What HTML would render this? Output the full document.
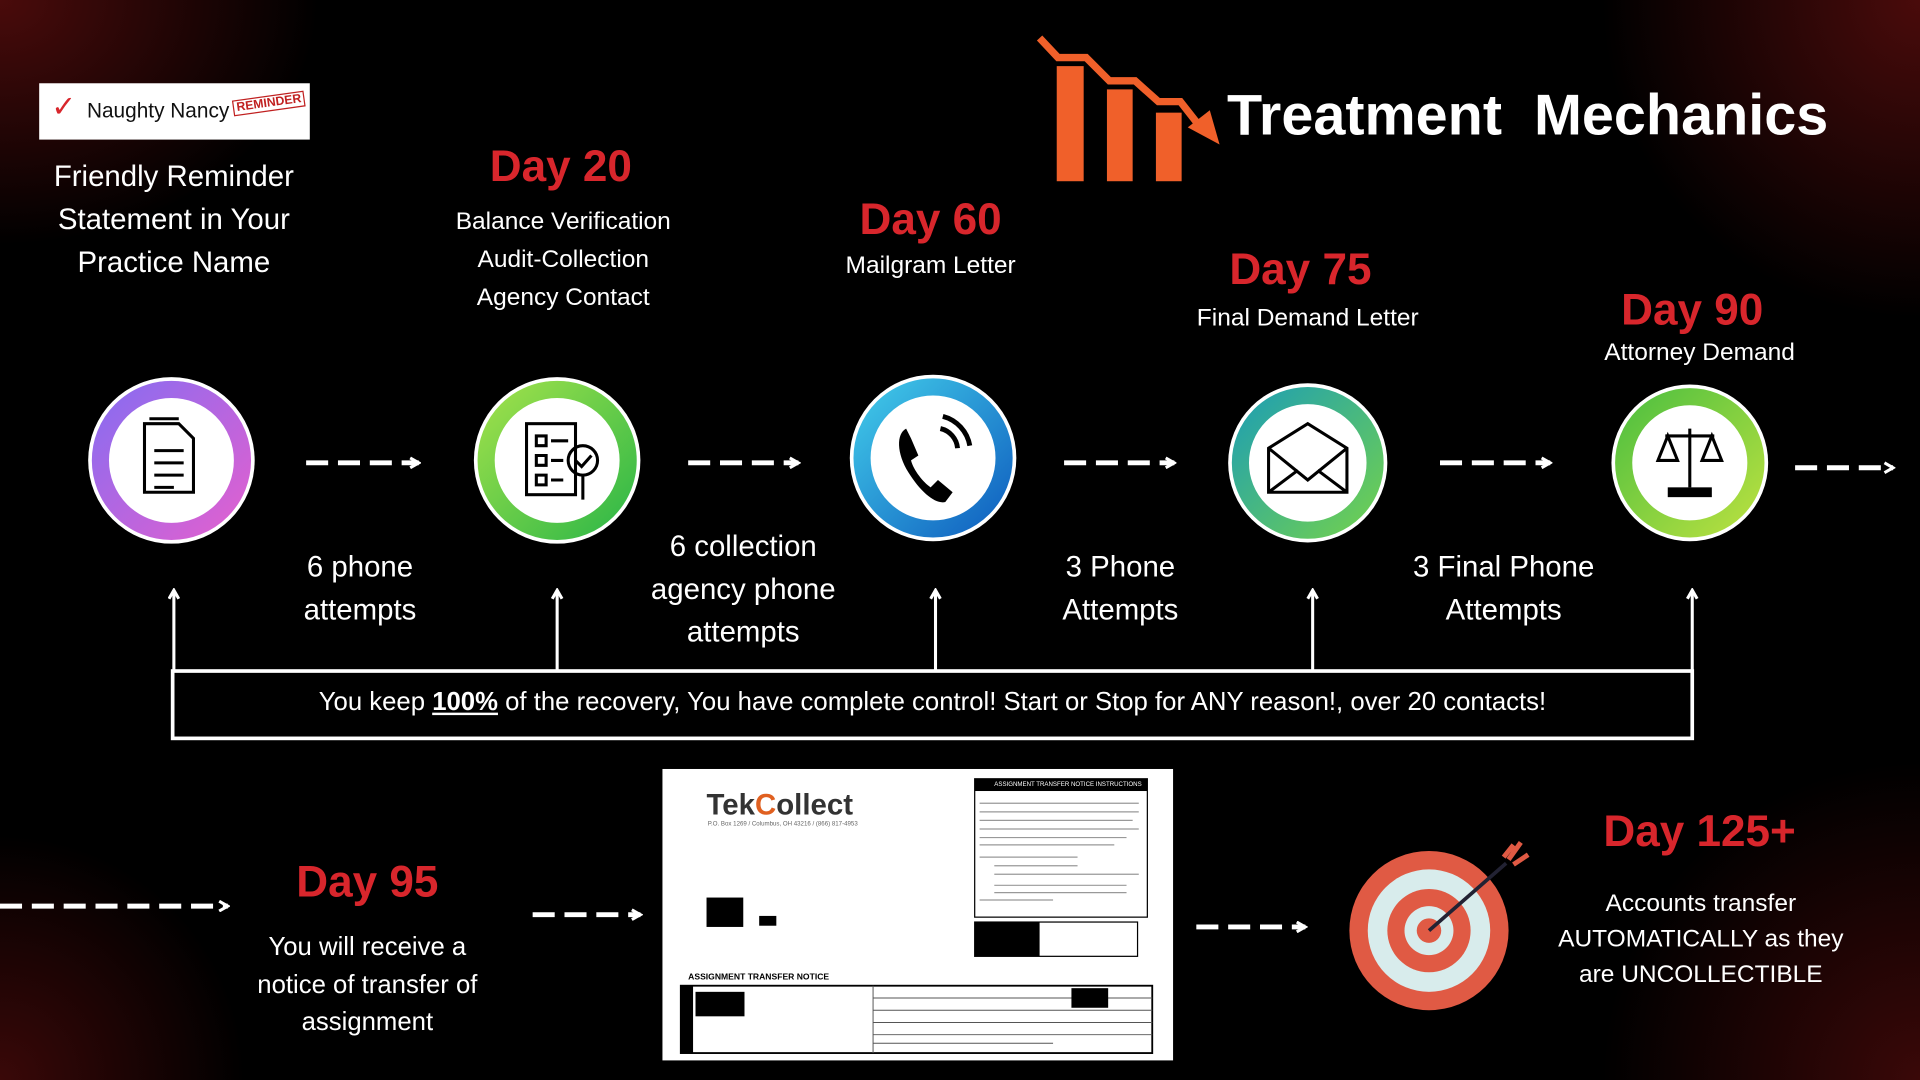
<!DOCTYPE html>
<html><head><meta charset="utf-8">
<style>
html,body{margin:0;padding:0;width:1920px;height:1080px;overflow:hidden;background:#000;}
#w{position:absolute;left:0;top:0;width:1568px;height:882px;transform:scale(1.22449);transform-origin:0 0;
background:
radial-gradient(ellipse 260px 200px at 0 0,#4a0b0b 0%,rgba(0,0,0,0) 100%),
radial-gradient(ellipse 260px 260px at 1568px 0,#4a0b0b 0%,rgba(0,0,0,0) 100%),
radial-gradient(ellipse 200px 200px at 0 882px,#3a0808 0%,rgba(0,0,0,0) 100%),
radial-gradient(ellipse 260px 260px at 1568px 882px,#3a0808 0%,rgba(0,0,0,0) 100%),#000;
font-family:"Liberation Sans",sans-serif;color:#fff;}
.t{position:absolute;text-align:center;white-space:nowrap;}
.day{color:#d8262c;font-size:36px;font-weight:bold;}
.sub{font-size:20px;line-height:31px;}
.big{font-size:24px;line-height:35px;}
svg{position:absolute;left:0;top:0;}
</style></head><body><div id="w">
<svg width="1568" height="882" viewBox="0 0 1568 882">
<defs>
<linearGradient id="g1" x1="0" y1="0" x2="1" y2="1"><stop offset="0" stop-color="#8a6cf0"/><stop offset="1" stop-color="#e060d0"/></linearGradient>
<linearGradient id="g2" x1="0" y1="0" x2="1" y2="1"><stop offset="0" stop-color="#9ee04a"/><stop offset="1" stop-color="#30b848"/></linearGradient>
<linearGradient id="g3" x1="0" y1="0" x2="1" y2="1"><stop offset="0" stop-color="#40c8e8"/><stop offset="1" stop-color="#1060c0"/></linearGradient>
<linearGradient id="g4" x1="0" y1="0" x2="1" y2="1"><stop offset="0" stop-color="#20a0b0"/><stop offset="1" stop-color="#70d050"/></linearGradient>
<linearGradient id="g5" x1="0" y1="0" x2="1" y2="1"><stop offset="0" stop-color="#50c040"/><stop offset="1" stop-color="#b8e040"/></linearGradient>
<marker id="ah" markerWidth="10" markerHeight="10" refX="8" refY="5" orient="auto" markerUnits="userSpaceOnUse"><path d="M1,1 L8,5 L1,9" fill="none" stroke="#fff" stroke-width="2.5"/></marker>
</defs>
<!-- logo chart -->
<rect x="863" y="54" width="22" height="94" fill="#f0602a"/>
<rect x="904" y="73" width="21" height="75" fill="#f0602a"/>
<rect x="944" y="92" width="21" height="56" fill="#f0602a"/>
<polyline points="849,31 864,47 887,47 906,66 927,66 946,83 964,83 982,106" fill="none" stroke="#f0602a" stroke-width="6"/>
<polygon points="970,104 996,118 988,90" fill="#f0602a"/>
<!-- circles -->
<circle cx="140" cy="376" r="68" fill="#fff"/><circle cx="140" cy="376" r="58" fill="none" stroke="url(#g1)" stroke-width="14"/>
<circle cx="455" cy="376" r="68" fill="#fff"/><circle cx="455" cy="376" r="58" fill="none" stroke="url(#g2)" stroke-width="14"/>
<circle cx="762" cy="374" r="68" fill="#fff"/><circle cx="762" cy="374" r="58" fill="none" stroke="url(#g3)" stroke-width="14"/>
<circle cx="1068" cy="378" r="65" fill="#fff"/><circle cx="1068" cy="378" r="55" fill="none" stroke="url(#g4)" stroke-width="14"/>
<circle cx="1380" cy="378" r="64" fill="#fff"/><circle cx="1380" cy="378" r="54" fill="none" stroke="url(#g5)" stroke-width="14"/>
<!-- icons -->
<g fill="none" stroke="#000" stroke-width="2.5">
<path d="M118,346 h28 l12,12 v44 h-40z"/><path d="M122,342 h24"/>
<path d="M126,368 h24 M126,378 h24 M126,388 h24 M126,398 h16"/>
<rect x="430" y="346" width="40" height="58"/><path d="M438,356h8v8h-8z M438,372h8v8h-8z M438,388h8v8h-8z M450,360h14 M450,376h10 M450,392h10"/>
<circle cx="476" cy="376" r="12"/><path d="M470,376l5,5 8,-9 M476,388v20"/>
<path d="M1036,366 l32,-20 32,20 v36 h-64z M1036,366 l32,26 32,-26 M1036,402 l24,-18 M1100,402 l-24,-18"/>
<path d="M1380,350 v48 M1360,356 h40 M1362,356 l-8,20 h16z M1398,356 l-8,20 h16z M1366,400 h28"/>
</g>
<path d="M740,350 c-8,4 -8,20 2,36 c10,16 22,26 30,24 l6,-8 -12,-10 -6,6 c-6,-4 -14,-14 -16,-22 l6,-4 -6,-14z" fill="#000"/>
<path d="M768,350 a18,18 0 0 1 14,16 M770,340 a30,30 0 0 1 22,24" fill="none" stroke="#000" stroke-width="4"/>
<rect x="1362" y="398" width="36" height="8" fill="#000"/>
<!-- dashed arrows -->
<g stroke="#fff" stroke-width="4" stroke-dasharray="18,8" marker-end="url(#ah)">
<line x1="250" y1="378" x2="342" y2="378"/>
<line x1="562" y1="378" x2="652" y2="378"/>
<line x1="869" y1="378" x2="959" y2="378"/>
<line x1="1176" y1="378" x2="1266" y2="378"/>
<line x1="1466" y1="382" x2="1546" y2="382"/>
<line x1="0" y1="740" x2="186" y2="740"/>
<line x1="435" y1="747" x2="523" y2="747"/>
<line x1="977" y1="757" x2="1066" y2="757"/>
</g>
<!-- verticals -->
<g stroke="#fff" stroke-width="2.5" marker-end="url(#ah)">
<line x1="142" y1="548" x2="142" y2="482"/><line x1="455" y1="548" x2="455" y2="482"/>
<line x1="764" y1="548" x2="764" y2="482"/><line x1="1072" y1="548" x2="1072" y2="482"/>
<line x1="1382" y1="548" x2="1382" y2="482"/>
</g>
<rect x="141" y="548" width="1241" height="55" fill="none" stroke="#fff" stroke-width="3"/>
<!-- target -->
<circle cx="1167" cy="760" r="65" fill="#e05a44"/><circle cx="1167" cy="760" r="50" fill="#d8ecec"/>
<circle cx="1167" cy="760" r="34" fill="#e05a44"/><circle cx="1167" cy="760" r="20" fill="#d8ecec"/>
<circle cx="1167" cy="760" r="10" fill="#e05a44"/>
<line x1="1167" y1="760" x2="1230" y2="705" stroke="#223" stroke-width="3"/>
<path d="M1228,700 l8,-10 M1236,706 l12,-8 M1232,702 l10,-14" stroke="#e05a44" stroke-width="4"/>
<!-- document -->
<rect x="541" y="628" width="417" height="238" fill="#fff"/>
<rect x="796" y="636" width="141" height="113" fill="none" stroke="#000"/>
<rect x="796" y="636" width="141" height="10" fill="#000"/>
<g stroke="#999" stroke-width="1">
<line x1="800" y1="656" x2="930" y2="656"/><line x1="800" y1="663" x2="930" y2="663"/><line x1="800" y1="670" x2="925" y2="670"/><line x1="800" y1="677" x2="930" y2="677"/><line x1="800" y1="684" x2="920" y2="684"/><line x1="800" y1="690" x2="910" y2="690"/>
<line x1="800" y1="700" x2="880" y2="700"/><line x1="812" y1="707" x2="880" y2="707"/><line x1="812" y1="714" x2="930" y2="714"/><line x1="812" y1="723" x2="920" y2="723"/><line x1="812" y1="729" x2="920" y2="729"/><line x1="800" y1="735" x2="860" y2="735"/>
</g>
<rect x="796" y="753" width="133" height="28" fill="none" stroke="#000"/><rect x="796" y="753" width="53" height="28" fill="#000"/>
<rect x="556" y="805" width="385" height="55" fill="none" stroke="#000" stroke-width="1.5"/><rect x="556" y="805" width="10" height="55" fill="#000"/>
<g stroke="#555" stroke-width="0.8"><line x1="713" y1="805" x2="713" y2="860"/><line x1="713" y1="815" x2="941" y2="815"/><line x1="713" y1="825" x2="941" y2="825"/><line x1="713" y1="835" x2="941" y2="835"/><line x1="713" y1="845" x2="941" y2="845"/><line x1="713" y1="852" x2="860" y2="852"/></g>
<rect x="577" y="733" width="30" height="24" fill="#000"/><rect x="620" y="748" width="14" height="8" fill="#000"/>
<rect x="568" y="810" width="40" height="20" fill="#000"/><rect x="875" y="807" width="30" height="16" fill="#000"/>
</svg>
<div style="position:absolute;left:32px;top:68px;width:221px;height:46px;background:#fff;"></div>
<div class="t" style="left:42px;top:73px;color:#d8262c;font-size:24px;">✓</div>
<div class="t" style="left:71px;top:81px;color:#111;font-size:17px;">Naughty Nancy</div>
<div class="t" style="left:190px;top:78px;color:#c02020;font-size:10px;font-weight:bold;border:1.5px solid #c02020;padding:0 2px;transform:rotate(-8deg);">REMINDER</div>
<div class="t" style="left:1002px;top:66px;font-size:47px;font-weight:bold;">Treatment&nbsp; Mechanics</div>
<div class="t big" style="left:42px;top:127px;width:200px;">Friendly Reminder<br>Statement in Your<br>Practice Name</div>
<div class="t day" style="left:358px;top:115px;width:200px;">Day 20</div>
<div class="t sub" style="left:340px;top:166px;width:240px;">Balance Verification<br>Audit-Collection<br>Agency Contact</div>
<div class="t day" style="left:660px;top:158px;width:200px;">Day 60</div>
<div class="t sub" style="left:660px;top:202px;width:200px;">Mailgram Letter</div>
<div class="t day" style="left:962px;top:199px;width:200px;">Day 75</div>
<div class="t sub" style="left:948px;top:245px;width:240px;">Final Demand Letter</div>
<div class="t day" style="left:1282px;top:232px;width:200px;">Day 90</div>
<div class="t sub" style="left:1268px;top:273px;width:240px;">Attorney Demand</div>
<div class="t big" style="left:194px;top:446px;width:200px;">6 phone<br>attempts</div>
<div class="t big" style="left:507px;top:429px;width:200px;">6 collection<br>agency phone<br>attempts</div>
<div class="t big" style="left:815px;top:446px;width:200px;">3 Phone<br>Attempts</div>
<div class="t big" style="left:1108px;top:446px;width:240px;">3 Final Phone<br>Attempts</div>
<div class="t" style="left:141px;top:562px;width:1241px;font-size:21px;">You keep <b><u>100%</u></b> of the recovery, You have complete control! Start or Stop for ANY reason!, over 20 contacts!</div>
<div class="t day" style="left:200px;top:699px;width:200px;">Day 95</div>
<div class="t" style="left:180px;top:759px;width:240px;font-size:21px;line-height:30.5px;">You will receive a<br>notice of transfer of<br>assignment</div>
<div class="t day" style="left:1288px;top:658px;width:200px;">Day 125+</div>
<div class="t" style="left:1250px;top:724px;width:278px;font-size:20px;line-height:29px;">Accounts transfer<br>AUTOMATICALLY as they<br>are UNCOLLECTIBLE</div>
<div class="t" style="left:577px;top:644px;color:#333;font-size:24px;font-weight:bold;">Tek<span style="color:#e06020">C</span>ollect</div>
<div class="t" style="left:578px;top:670px;color:#666;font-size:5px;">P.O. Box 1269 / Columbus, OH 43216 / (866) 817-4953</div>
<div class="t" style="left:562px;top:795px;color:#000;font-size:7px;font-weight:bold;">ASSIGNMENT TRANSFER NOTICE</div>
<div class="t" style="left:812px;top:638px;color:#fff;font-size:5px;">ASSIGNMENT TRANSFER NOTICE INSTRUCTIONS</div>
</div></body></html>
